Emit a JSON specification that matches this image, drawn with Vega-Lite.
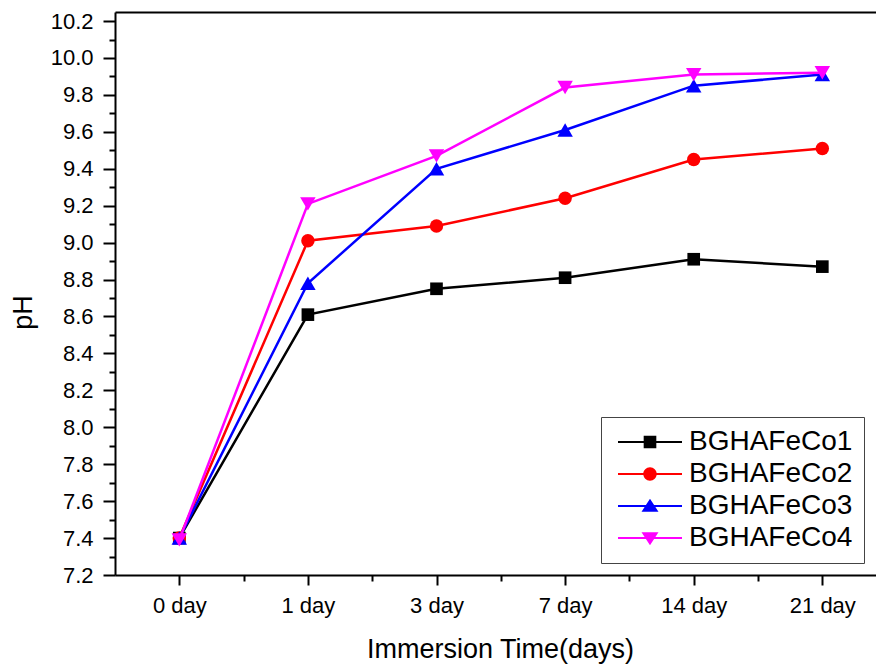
{
  "$schema": "https://vega.github.io/schema/vega-lite/v6.json",
  "width": 761,
  "height": 563,
  "autosize": {"type": "none"},
  "padding": {"left": 115, "top": 12, "right": 0, "bottom": 91},
  "background": "white",
  "config": {
    "view": {"stroke": null},
    "font": "Liberation Sans",
    "axis": {
      "domainColor": "black", "tickColor": "black", "labelColor": "black", "titleColor": "black",
      "grid": false, "labelFont": "Liberation Sans", "titleFont": "Liberation Sans",
      "titleFontWeight": "normal", "domainWidth": 2, "tickWidth": 2
    }
  },
  "data": {
    "values": [
      {"time": "0 day", "series": "BGHAFeCo1", "pH": 7.40},
      {"time": "1 day", "series": "BGHAFeCo1", "pH": 8.61},
      {"time": "3 day", "series": "BGHAFeCo1", "pH": 8.75},
      {"time": "7 day", "series": "BGHAFeCo1", "pH": 8.81},
      {"time": "14 day", "series": "BGHAFeCo1", "pH": 8.91},
      {"time": "21 day", "series": "BGHAFeCo1", "pH": 8.87},
      {"time": "0 day", "series": "BGHAFeCo2", "pH": 7.40},
      {"time": "1 day", "series": "BGHAFeCo2", "pH": 9.01},
      {"time": "3 day", "series": "BGHAFeCo2", "pH": 9.09},
      {"time": "7 day", "series": "BGHAFeCo2", "pH": 9.24},
      {"time": "14 day", "series": "BGHAFeCo2", "pH": 9.45},
      {"time": "21 day", "series": "BGHAFeCo2", "pH": 9.51},
      {"time": "0 day", "series": "BGHAFeCo3", "pH": 7.40},
      {"time": "1 day", "series": "BGHAFeCo3", "pH": 8.78},
      {"time": "3 day", "series": "BGHAFeCo3", "pH": 9.40},
      {"time": "7 day", "series": "BGHAFeCo3", "pH": 9.61},
      {"time": "14 day", "series": "BGHAFeCo3", "pH": 9.85},
      {"time": "21 day", "series": "BGHAFeCo3", "pH": 9.91},
      {"time": "0 day", "series": "BGHAFeCo4", "pH": 7.39},
      {"time": "1 day", "series": "BGHAFeCo4", "pH": 9.21},
      {"time": "3 day", "series": "BGHAFeCo4", "pH": 9.47},
      {"time": "7 day", "series": "BGHAFeCo4", "pH": 9.84},
      {"time": "14 day", "series": "BGHAFeCo4", "pH": 9.91},
      {"time": "21 day", "series": "BGHAFeCo4", "pH": 9.92}
    ]
  },
  "resolve": {"axis": {"x": "independent", "y": "independent"}},
  "layer": [
    {
      "transform": [{"filter": "datum.series === 'BGHAFeCo1'"}],
      "mark": {"type": "line", "strokeWidth": 2.5, "color": "#000000"},
      "encoding": {
        "x": {
          "field": "time", "type": "ordinal",
          "sort": ["0 day", "1 day", "3 day", "7 day", "14 day", "21 day"],
          "scale": {"type": "point", "padding": 0.4586, "align": 0.545},
          "axis": {
            "orient": "bottom", "title": "Immersion Time(days)", "labelAngle": 0,
            "labelFontSize": 22, "tickSize": 10, "labelPadding": 10,
            "titleFontSize": 27, "titleX": 385, "titleY": 82, "titleBaseline": "alphabetic", "titleAlign": "center"
          }
        },
        "y": {
          "field": "pH", "type": "quantitative",
          "scale": {"domain": [7.2, 10.249], "nice": false, "zero": false},
          "axis": {
            "orient": "left",
            "values": [7.2, 7.4, 7.6, 7.8, 8.0, 8.2, 8.4, 8.6, 8.8, 9.0, 9.2, 9.4, 9.6, 9.8, 10.0, 10.2],
            "format": ".1f", "labelFontSize": 22, "tickSize": 12, "labelPadding": 10,
            "title": "pH", "titleFontSize": 27, "titleAngle": -90, "titleX": -92, "titleY": 300,
            "titleAlign": "center", "titleBaseline": "middle"
          }
        }
      }
    },
    {
      "transform": [{"filter": "datum.series === 'BGHAFeCo1'"}],
      "mark": {"type": "point", "shape": "square", "filled": true, "color": "#000000", "size": 160, "opacity": 1},
      "encoding": {
        "x": {"field": "time", "type": "ordinal", "sort": ["0 day", "1 day", "3 day", "7 day", "14 day", "21 day"],
              "axis": {"orient": "top", "labels": false, "ticks": false, "title": null, "domainWidth": 2}},
        "y": {"field": "pH", "type": "quantitative", "axis": null}
      }
    },
    {
      "transform": [{"filter": "datum.series === 'BGHAFeCo2'"}],
      "mark": {"type": "line", "strokeWidth": 2.5, "color": "#ff0000"},
      "encoding": {
        "x": {"field": "time", "type": "ordinal", "sort": ["0 day", "1 day", "3 day", "7 day", "14 day", "21 day"], "axis": null},
        "y": {"field": "pH", "type": "quantitative", "axis": null}
      }
    },
    {
      "transform": [{"filter": "datum.series === 'BGHAFeCo2'"}],
      "mark": {"type": "point", "shape": "circle", "filled": true, "color": "#ff0000", "size": 180, "opacity": 1},
      "encoding": {
        "x": {"field": "time", "type": "ordinal", "sort": ["0 day", "1 day", "3 day", "7 day", "14 day", "21 day"], "axis": null},
        "y": {"field": "pH", "type": "quantitative", "axis": null}
      }
    },
    {
      "transform": [{"filter": "datum.series === 'BGHAFeCo3'"}],
      "mark": {"type": "line", "strokeWidth": 2.5, "color": "#0000ff"},
      "encoding": {
        "x": {"field": "time", "type": "ordinal", "sort": ["0 day", "1 day", "3 day", "7 day", "14 day", "21 day"], "axis": null},
        "y": {"field": "pH", "type": "quantitative", "axis": null}
      }
    },
    {
      "transform": [{"filter": "datum.series === 'BGHAFeCo3'"}],
      "mark": {"type": "point", "shape": "triangle-up", "filled": true, "color": "#0000ff", "size": 240, "opacity": 1},
      "encoding": {
        "x": {"field": "time", "type": "ordinal", "sort": ["0 day", "1 day", "3 day", "7 day", "14 day", "21 day"], "axis": null},
        "y": {"field": "pH", "type": "quantitative", "axis": null}
      }
    },
    {
      "transform": [{"filter": "datum.series === 'BGHAFeCo4'"}],
      "mark": {"type": "line", "strokeWidth": 2.5, "color": "#ff00ff"},
      "encoding": {
        "x": {"field": "time", "type": "ordinal", "sort": ["0 day", "1 day", "3 day", "7 day", "14 day", "21 day"], "axis": null},
        "y": {"field": "pH", "type": "quantitative", "axis": null}
      }
    },
    {
      "transform": [{"filter": "datum.series === 'BGHAFeCo4'"}],
      "mark": {"type": "point", "shape": "triangle-down", "filled": true, "color": "#ff00ff", "size": 240, "opacity": 1},
      "encoding": {
        "x": {"field": "time", "type": "ordinal", "sort": ["0 day", "1 day", "3 day", "7 day", "14 day", "21 day"], "axis": null},
        "y": {"field": "pH", "type": "quantitative", "axis": null}
      }
    },
    {
      "mark": {"type": "point", "filled": true, "opacity": 0, "size": 100},
      "encoding": {
        "x": {"field": "time", "type": "ordinal", "sort": ["0 day", "1 day", "3 day", "7 day", "14 day", "21 day"],
              "axis": {"orient": "bottom", "labels": false, "domain": false, "tickOffset": 64.3, "tickSize": 6, "title": null}},
        "y": {"field": "pH", "type": "quantitative",
              "axis": {"orient": "left", "labels": false, "domain": false, "tickSize": 6, "title": null,
                       "values": [7.3, 7.5, 7.7, 7.9, 8.1, 8.3, 8.5, 8.7, 8.9, 9.1, 9.3, 9.5, 9.7, 9.9, 10.1]}},
        "color": {
          "field": "series", "type": "nominal",
          "scale": {"domain": ["BGHAFeCo1", "BGHAFeCo2", "BGHAFeCo3", "BGHAFeCo4"], "range": ["#000000", "#ff0000", "#0000ff", "#ff00ff"]},
          "legend": {"title": null, "orient": "none", "legendX": 486, "legendY": 405, "padding": 11,
                     "strokeColor": "#444444", "fillColor": "white",
                     "labelFontSize": 28, "labelFont": "Liberation Sans", "labelColor": "black", "labelLimit": 400,
                     "symbolSize": 256, "symbolStrokeWidth": 0, "symbolOpacity": 1, "labelOffset": 49, "rowPadding": 4}
        },
        "shape": {
          "field": "series", "type": "nominal",
          "scale": {"domain": ["BGHAFeCo1", "BGHAFeCo2", "BGHAFeCo3", "BGHAFeCo4"],
                    "range": [
                      "M-1,-0.125H7V0.125H-1Z M2.21,-0.79H3.79V0.79H2.21Z",
                      "M-1,-0.125H7V0.125H-1Z M2.16,0A0.84,0.84 0 1,1 3.84,0A0.84,0.84 0 1,1 2.16,0Z",
                      "M-1,-0.125H7V0.125H-1Z M3,-0.9L4.06,0.72H1.94Z",
                      "M-1,-0.125H7V0.125H-1Z M3,0.9L1.94,-0.72H4.06Z"
                    ]},
          "legend": {"title": null, "orient": "none", "legendX": 486, "legendY": 405, "padding": 11,
                     "strokeColor": "#444444", "fillColor": "white",
                     "labelFontSize": 28, "labelFont": "Liberation Sans", "labelColor": "black", "labelLimit": 400,
                     "symbolSize": 256, "symbolStrokeWidth": 0, "symbolOpacity": 1, "labelOffset": 49, "rowPadding": 4}
        }
      }
    }
  ]
}
